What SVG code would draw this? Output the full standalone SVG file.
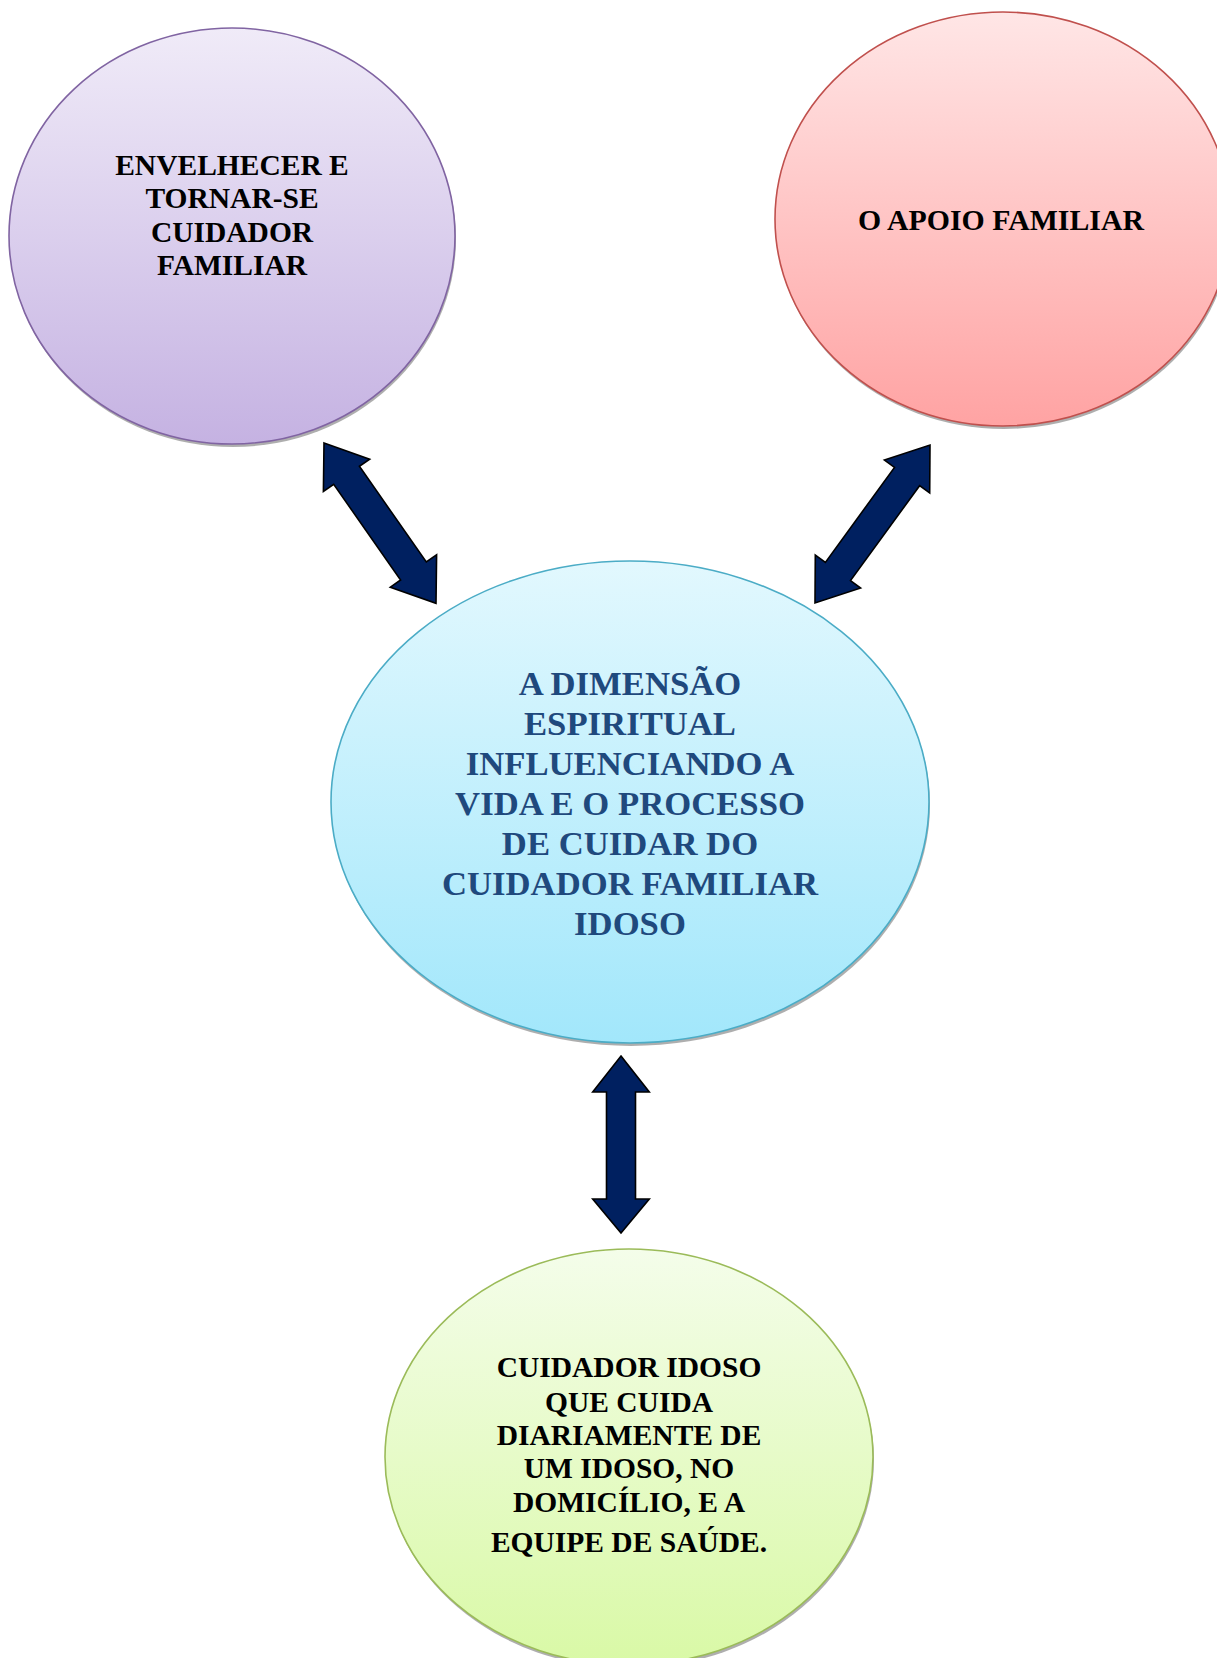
<svg xmlns="http://www.w3.org/2000/svg" width="1217" height="1658" viewBox="0 0 1217 1658">
<defs>
<linearGradient id="gPurple" x1="0" y1="0" x2="0" y2="1"><stop offset="0" stop-color="#F0EBF8"/><stop offset="1" stop-color="#C5B2E2"/></linearGradient>
<linearGradient id="gRed" x1="0" y1="0" x2="0" y2="1"><stop offset="0" stop-color="#FFE6E6"/><stop offset="1" stop-color="#FFA3A3"/></linearGradient>
<linearGradient id="gCyan" x1="0" y1="0" x2="0" y2="1"><stop offset="0" stop-color="#E2F8FE"/><stop offset="1" stop-color="#A2E7FB"/></linearGradient>
<linearGradient id="gGreen" x1="0" y1="0" x2="0" y2="1"><stop offset="0" stop-color="#F4FDEA"/><stop offset="1" stop-color="#D9F9A6"/></linearGradient>
<style>
.shadow{fill:#9a9a9a;opacity:0.8}
.ell{stroke-width:1.6}
.lbl{font-family:"Liberation Serif","Times New Roman",serif;font-weight:bold;text-anchor:middle;fill:#000}
.arrow{fill:#002060;stroke:#000;stroke-width:1.6;stroke-linejoin:miter}
</style>
</defs>
<rect width="1217" height="1658" fill="#fff"/>

<g id="node-envelhecer">
<ellipse class="shadow" cx="233" cy="239" rx="223" ry="208"/>
<ellipse class="ell" cx="232" cy="236" rx="223" ry="208" fill="url(#gPurple)" stroke="#8064A2"/>
<text class="lbl" font-size="29.5"><tspan x="232" y="175">ENVELHECER E</tspan><tspan x="232" y="208">TORNAR-SE</tspan><tspan x="232" y="242">CUIDADOR</tspan><tspan x="232" y="275">FAMILIAR</tspan></text>
</g>

<g id="node-apoio">
<ellipse class="shadow" cx="1004" cy="222" rx="228" ry="207"/>
<ellipse class="ell" cx="1003" cy="219" rx="228" ry="207" fill="url(#gRed)" stroke="#C0504D"/>
<text class="lbl" font-size="29.8" x="1001" y="230">O APOIO FAMILIAR</text>
</g>

<g id="node-dimensao">
<ellipse class="shadow" cx="631" cy="805" rx="299" ry="241"/>
<ellipse class="ell" cx="630" cy="802" rx="299" ry="241" fill="url(#gCyan)" stroke="#4BACC6"/>
<text class="lbl" font-size="34.7" style="fill:#1F497D"><tspan x="630" y="695">A DIMENSÃO</tspan><tspan x="630" y="735">ESPIRITUAL</tspan><tspan x="630" y="775">INFLUENCIANDO A</tspan><tspan x="630" y="815">VIDA E O PROCESSO</tspan><tspan x="630" y="855">DE CUIDAR DO</tspan><tspan x="630" y="895">CUIDADOR FAMILIAR</tspan><tspan x="630" y="935">IDOSO</tspan></text>
</g>

<g id="node-cuidador">
<ellipse class="shadow" cx="630" cy="1460" rx="244" ry="208"/>
<ellipse class="ell" cx="629" cy="1457" rx="244" ry="208" fill="url(#gGreen)" stroke="#9BBB59"/>
<text class="lbl" font-size="29.5"><tspan x="629" y="1377">CUIDADOR IDOSO</tspan><tspan x="629" y="1412">QUE CUIDA</tspan><tspan x="629" y="1445">DIARIAMENTE DE</tspan><tspan x="629" y="1478">UM IDOSO, NO</tspan><tspan x="629" y="1512">DOMICÍLIO, E A</tspan><tspan x="629" y="1552">EQUIPE DE SAÚDE.</tspan></text>
</g>

<g id="connectors">
<polygon class="arrow" points="324,443 369.7,459.2 359.4,466.3 426.3,562 436.6,554.9 436,603.3 390.3,587.2 400.6,580 333.7,484.3 323.4,491.5"/>
<polygon class="arrow" points="930,445 929.7,493 919.6,485.7 850.5,580.6 860.6,588 815,603 815.3,555 825.4,562.4 894.5,467.4 884.4,460.1"/>
<polygon class="arrow" points="621,1056 649.3,1092 635.5,1092 635.5,1199 649.3,1199 621,1233 592.7,1199 606.5,1199 606.5,1092 592.7,1092"/>
</g>
</svg>
